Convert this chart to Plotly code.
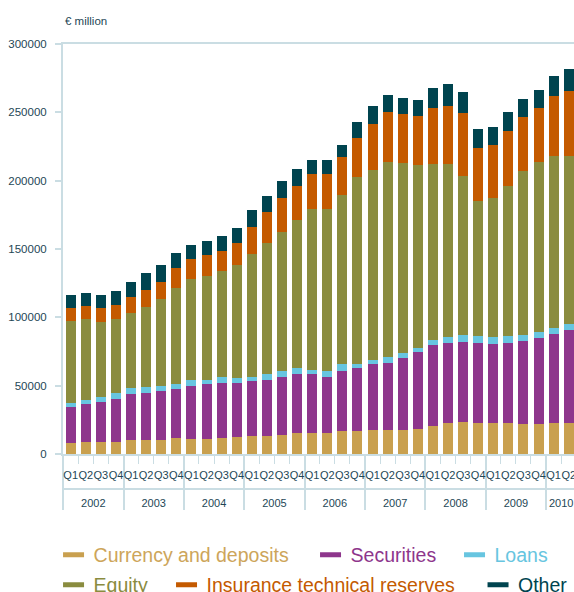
import plotly.graph_objects as go

years = ["2002"] * 4 + ["2003"] * 4 + ["2004"] * 4 + ["2005"] * 4 + ["2006"] * 4 + \
        ["2007"] * 4 + ["2008"] * 4 + ["2009"] * 4 + ["2010"] * 2
quarters = ["Q1", "Q2", "Q3", "Q4"] * 8 + ["Q1", "Q2"]

currency = [7800, 8500, 8500, 8500, 10000, 10000, 10000, 11400, 10700, 10700, 11400, 12200,
            12900, 12900, 13600, 15100, 15100, 15100, 16500, 16500, 17300, 17300, 17300, 18000,
            20200, 22400, 23100, 22400, 22400, 22400, 21700, 21700, 22400, 22400]
securities = [26300, 27800, 29200, 31400, 33600, 35000, 35800, 35800, 39400, 40200, 40900, 39400,
              40200, 41600, 43100, 43800, 43100, 40900, 44600, 46100, 48200, 49600, 53300, 57000,
              59900, 59100, 59200, 59100, 58400, 59100, 61300, 63500, 65700, 68600]
loans = [2900, 2900, 3700, 4400, 4400, 3700, 3600, 3700, 3700, 3600, 3700, 3700,
         3600, 3700, 3700, 3700, 3600, 4400, 4400, 3600, 3600, 4400, 3600, 2900,
         3600, 4400, 5100, 5200, 5100, 5200, 4400, 4400, 4400, 4400]
equity = [60600, 59900, 55500, 54800, 55500, 59100, 64100, 70700, 74400, 75900, 78000, 83100,
          89700, 96300, 102100, 108600, 117500, 118900, 124000, 136400, 138600, 142300, 138700, 133500,
          128400, 126200, 116000, 98400, 101400, 109400, 119600, 124000, 125500, 122600]
insurance = [9500, 9500, 10200, 10200, 11500, 12300, 12500, 14600, 14600, 15300, 14600, 16100,
             19700, 22600, 24800, 24900, 25500, 25500, 27700, 28500, 33600, 36500, 35700, 35800,
             40900, 42400, 45900, 38700, 38700, 40100, 39500, 39400, 43800, 47500]
other = [9400, 9300, 9400, 10100, 11000, 12500, 12400, 11000, 10200, 10200, 11000, 10900,
         12500, 11700, 12400, 12400, 10300, 10300, 8800, 11600, 13100, 12300, 11600, 11600,
         14600, 16000, 15400, 13900, 13200, 13900, 13100, 13100, 14500, 16000]

series_names = ["Currency and deposits", "Securities", "Loans", "Equity",
                "Insurance technical reserves", "Other"]
series_values = [currency, securities, loans, equity, insurance, other]
colors = ["#C9A04F", "#8E368C", "#67C5E0", "#8A8C3F", "#C45A00", "#00444F"]
text_colors = ["#CDA55A", "#8E368C", "#67C5E0", "#8A8C3F", "#C45A00", "#00444F"]
legend_pos = [(-0.0185, -0.2463), (0.4844, -0.2463), (0.7662, -0.2463),
              (-0.0185, -0.3195), (0.2026, -0.3195), (0.8122, -0.3195)]

ink = "#1E4756"
rule = "#CADDE3"
sans = "Liberation Sans, Arial, Helvetica, sans-serif"

# category positions derived from the label lists
positions = list(range(len(quarters)))
quarter_bounds = [p - 0.5 for p in positions] + [positions[-1] + 0.5]
year_names = []
year_groups = []
year_bounds = [-0.5]
for p, yr in enumerate(years):
    if not year_names or year_names[-1] != yr:
        if year_names:
            year_bounds.append(p - 0.5)
        year_names.append(yr)
        year_groups.append([p])
    else:
        year_groups[-1].append(p)
year_bounds.append(positions[-1] + 0.5)
year_mid = [sum(g) / len(g) for g in year_groups]

xrange = [-0.51, 33.35]

fig = go.Figure()
legend_ids = ["legend", "legend2", "legend3", "legend4", "legend5", "legend6"]
for name, vals, col, lid in zip(series_names, series_values, colors, legend_ids):
    fig.add_trace(go.Bar(x=positions, y=vals, name=name,
                         marker=dict(color=col, line=dict(width=0)),
                         showlegend=False, legendgroup=name))
    # legend key (flat bar-coloured swatch)
    fig.add_trace(go.Scatter(x=[None], y=[None], mode="markers", name=name,
                             legendgroup=name, legend=lid, showlegend=True,
                             marker=dict(symbol="line-ew", size=15, color=col,
                                         line=dict(color=col, width=7))))

# carriers so the label axes (quarters, years) get drawn
fig.add_trace(go.Scatter(x=positions, y=[None] * len(positions), xaxis="x2",
                         mode="markers", showlegend=False, hoverinfo="skip"))
fig.add_trace(go.Scatter(x=year_mid, y=[None] * len(year_mid), xaxis="x3",
                         mode="markers", showlegend=False, hoverinfo="skip"))

layout_legends = {}
for lid, (lx, ly), tc in zip(legend_ids, legend_pos, text_colors):
    layout_legends[lid] = dict(x=lx, y=ly, xanchor="left", yanchor="middle",
                               orientation="h", bgcolor="rgba(0,0,0,0)",
                               font=dict(family=sans, size=19.5, color=tc))

fig.update_layout(
    width=574, height=592,
    margin=dict(l=63, r=0, t=44, b=138, autoexpand=False),
    barmode="stack", bargap=0.34,
    plot_bgcolor="white", paper_bgcolor="white",
    font=dict(family=sans, color=ink, size=11.5),
    showlegend=True,
    **layout_legends,
    xaxis=dict(range=xrange, showline=True, linecolor=rule, linewidth=2, mirror=True,
               tickmode="array", tickvals=year_bounds, showticklabels=False,
               ticks="outside", ticklen=54, tickwidth=2, tickcolor=rule,
               minor=dict(tickmode="array", tickvals=quarter_bounds, ticks="outside",
                          ticklen=8, tickwidth=1, tickcolor=rule, showgrid=False),
               showgrid=False, zeroline=False),
    xaxis2=dict(range=xrange, overlaying="x", anchor="y", side="bottom",
                tickmode="array", tickvals=positions, ticktext=quarters,
                ticks="", ticklabelstandoff=13, tickangle=0, ticklabeloverflow="allow",
                tickfont=dict(family=sans, size=11, color=ink),
                showline=False, showgrid=False, zeroline=False),
    xaxis3=dict(range=xrange, overlaying="x", anchor="y", side="bottom",
                tickmode="array", tickvals=year_mid, ticktext=year_names,
                ticks="", ticklabelstandoff=41, tickangle=0, ticklabeloverflow="allow",
                tickfont=dict(family=sans, size=11, color=ink),
                showline=False, showgrid=False, zeroline=False),
    yaxis=dict(range=[0, 300000], tickvals=[0, 50000, 100000, 150000, 200000, 250000, 300000],
               tickformat="d", showline=True, linecolor=rule, linewidth=2,
               ticks="outside", ticklen=6, tickcolor=rule, tickwidth=2,
               ticklabelstandoff=6,
               tickfont=dict(family=sans, size=11.5, color=ink),
               showgrid=False, zeroline=False),
    annotations=[dict(text="€ million", xref="paper", yref="paper", x=0, y=1.056,
                      xanchor="left", yanchor="middle", showarrow=False,
                      font=dict(family=sans, size=11.5, color=ink))],
    shapes=[dict(type="line", xref="paper", yref="paper", x0=0, x1=1,
                 y0=-0.0854, y1=-0.0854, line=dict(color=rule, width=2))],
)

fig.write_html("out.html",
               config={"displayModeBar": False},
               post_script="document.body.style.margin='0';"
                           "document.body.style.overflow='hidden';")
